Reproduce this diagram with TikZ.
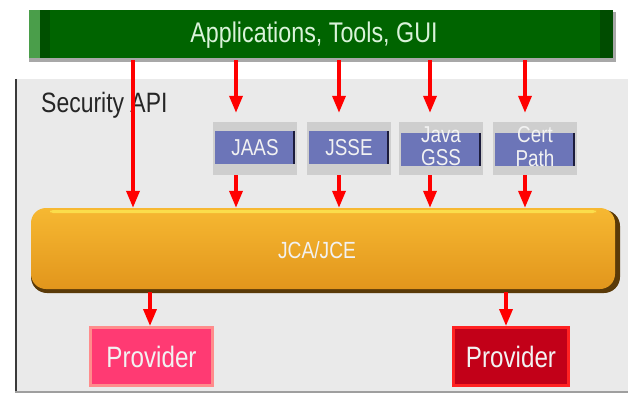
\documentclass[tikz,border=0pt]{standalone}
\usepackage{fontspec}
\setmainfont[FakeStretch=0.82]{Liberation Sans}
\usetikzlibrary{arrows.meta}
\definecolor{panelbg}{HTML}{EAEAEA}
\definecolor{paneledge}{HTML}{3A3A3A}
\definecolor{appgreen}{HTML}{006400}
\definecolor{applight}{HTML}{4A9E4A}
\definecolor{appdark}{HTML}{004C00}
\definecolor{appshadow}{HTML}{A8A8A8}
\definecolor{boxblue}{HTML}{6C75B8}
\definecolor{boxedge}{HTML}{1C1C3C}
\definecolor{boxshadow}{HTML}{CECECE}
\definecolor{jcadark}{HTML}{5A3A08}
\definecolor{jcatop}{HTML}{F6B832}
\definecolor{jcamid}{HTML}{F2A224}
\definecolor{jcabot}{HTML}{E2961C}
\definecolor{provpink}{HTML}{FF3A73}
\definecolor{provpinkedge}{HTML}{FF8C8C}
\definecolor{provred}{HTML}{C20018}
\definecolor{provrededge}{HTML}{FF2222}
\definecolor{arrred}{HTML}{FF0000}
\definecolor{lighttext}{HTML}{F2F2F2}
\tikzset{
  arr/.style={draw=arrred, line width=3.5pt, -{Triangle[width=13pt,length=17pt]}},
  labtext/.style={inner sep=0pt, text=lighttext},
  secbox/.style={labtext, fill=boxblue, minimum width=80pt, minimum height=33pt,
    font=\fontsize{23}{23}\selectfont},
  provbox/.style={labtext, line width=3pt, minimum height=58pt,
    font=\fontsize{29.5}{30}\selectfont}
}
\begin{document}
\begin{tikzpicture}[x=1pt,y=-1pt]
\useasboundingbox (0,0) rectangle (628,393);
\fill[white] (0,0) rectangle (628,393);
% panel
\fill[panelbg] (15,79) rectangle (628,392);
\draw[paneledge, line width=1.5pt] (15.75,79) -- (15.75,392);
\draw[gray!75, line width=2pt] (15,392) -- (628,392);
\node[anchor=base west, inner sep=0pt, text=black!85, font=\fontsize{28}{30}\selectfont] (secapi) at (41,112) {Security API};
% applications bar
\fill[appshadow] (29,12) rectangle (616,62);
\fill[appgreen] (29,10) rectangle (613,58);
\fill[applight] (29,10) rectangle (40,58);
\fill[appgreen!80!black] (40,10) rectangle (50,58);
\fill[appdark] (600,10) rectangle (613,58);
\node[labtext, text=lighttext!90!green, minimum width=560pt, minimum height=50pt,
  font=\fontsize{28.4}{30}\selectfont] (apps) at (314,35) {Applications, Tools, GUI};
% box shadows
\fill[boxshadow] (213,122) rectangle (297,175);
\fill[boxshadow] (307,122) rectangle (391,175);
\fill[boxshadow] (399,122) rectangle (483,175);
\fill[boxshadow] (493,122) rectangle (577,175);
% boxes
\node[secbox] (jaas) at (255,147.5) {JAAS};
\node[secbox] (jsse) at (349,147.5) {JSSE};
\node[secbox] (gss) at (441,149.5) {\smash{\raisebox{-6.5pt}{\begin{tabular}{@{}c@{}}Java\\GSS\end{tabular}}}};
\node[secbox] (cert) at (535,149.5) {\smash{\raisebox{-6.5pt}{\begin{tabular}{@{}c@{}}Cert\\Path\end{tabular}}}};
\foreach \b in {jaas,jsse,gss,cert}
  \draw[boxedge, line width=2pt] ([xshift=-1pt]\b.north east) -- ([xshift=-1pt]\b.south east);
% JCA/JCE bar
\fill[jcadark, rounded corners=16pt] (31,210) rectangle (620,293);
\shade[top color=jcatop, middle color=jcamid, bottom color=jcabot, rounded corners=15pt] (31,208) rectangle (615,289);
\fill[jcatop!60!yellow!80!white, rounded corners=3pt] (50,210) rectangle (596,213);
\node[labtext, minimum width=560pt, minimum height=84pt,
  font=\fontsize{23.4}{24}\selectfont] (jca) at (317,250) {JCA/JCE};
% providers
\node[provbox, fill=provpink, draw=provpinkedge, minimum width=122pt] (prov1) at (151.5,356.5) {Provider};
\node[provbox, fill=provred, draw=provrededge, minimum width=115pt] (prov2) at (511,356.5) {Provider};
% arrows
\coordinate (c0) at (133,0);
\coordinate (c1) at (236,0);
\coordinate (c2) at (339,0);
\coordinate (c3) at (430,0);
\coordinate (c4) at (525,0);
\coordinate (p1) at (150,0);
\coordinate (p2) at (506,0);
\draw[arr] (apps.south -| c0) -- (c0 |- jca.north);
\draw[arr, shorten >=18pt] (apps.south -| c1) -- (c1 |- jaas.north);
\draw[arr, shorten >=18pt] (apps.south -| c2) -- (c2 |- jsse.north);
\draw[arr, shorten >=20pt] (apps.south -| c3) -- (c3 |- gss.north);
\draw[arr, shorten >=20pt] (apps.south -| c4) -- (c4 |- cert.north);
\draw[arr, shorten <=11pt] (c1 |- jaas.south) -- (c1 |- jca.north);
\draw[arr, shorten <=11pt] (c2 |- jsse.south) -- (c2 |- jca.north);
\draw[arr, shorten <=9pt] (c3 |- gss.south) -- (c3 |- jca.north);
\draw[arr, shorten <=9pt] (c4 |- cert.south) -- (c4 |- jca.north);
\draw[arr] (jca.south -| p1) -- (p1 |- prov1.north);
\draw[arr] (jca.south -| p2) -- (p2 |- prov2.north);
\end{tikzpicture}
\end{document}
